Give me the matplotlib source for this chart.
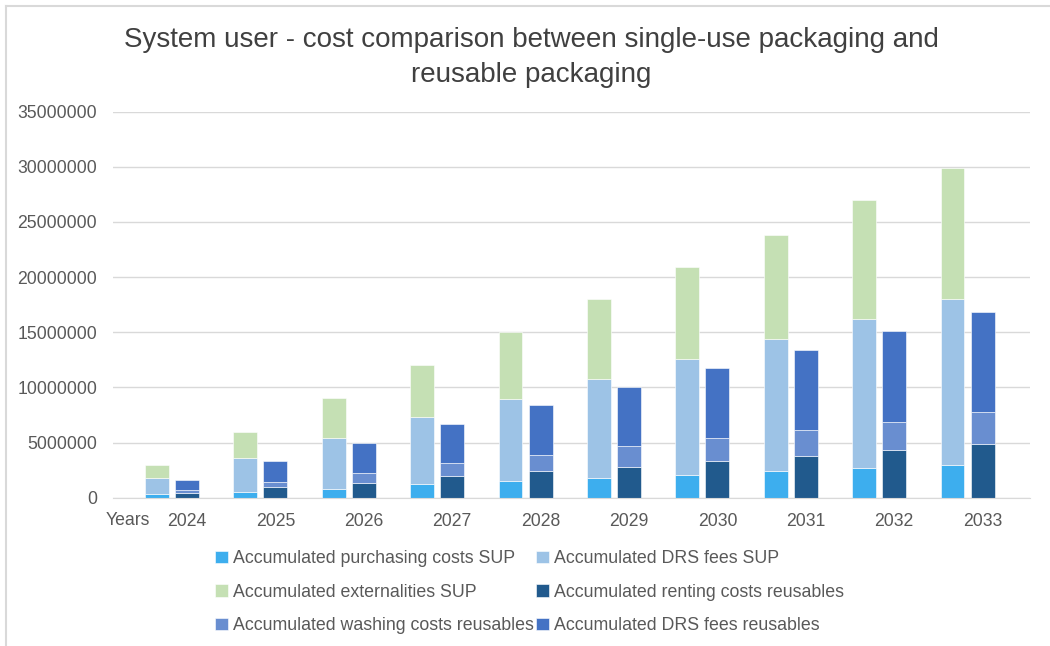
import matplotlib
matplotlib.use("Agg")
import matplotlib.pyplot as plt
from matplotlib.lines import Line2D
import numpy as np

plt.rcParams['font.family'] = ['Liberation Sans', 'DejaVu Sans']

years = ["2024", "2025", "2026", "2027", "2028", "2029", "2030", "2031", "2032", "2033"]

# Single-use packaging (cumulative, stacked)
purchasing_sup = [330000, 550000, 820000, 1240000, 1510000, 1750000, 2050000, 2440000, 2700000, 2960000]
drs_sup = [1420000, 3070000, 4550000, 6060000, 7410000, 9050000, 10490000, 11960000, 13500000, 15040000]
externalities_sup = [1250000, 2380000, 3630000, 4700000, 6080000, 7200000, 8410000, 9400000, 10800000, 11900000]

# Reusable packaging (cumulative, stacked)
renting_reuse = [450000, 940000, 1360000, 1930000, 2410000, 2800000, 3350000, 3770000, 4300000, 4860000]
washing_reuse = [250000, 510000, 900000, 1210000, 1450000, 1900000, 2020000, 2410000, 2600000, 2940000]
drs_reuse = [900000, 1900000, 2710000, 3510000, 4520000, 5340000, 6380000, 7170000, 8170000, 9000000]

c_purch = "#3daeee"
c_drs_sup = "#9dc3e6"
c_ext = "#c5e0b4"
c_rent = "#215a8d"
c_wash = "#698ed0"
c_drs_re = "#4472c4"

fig = plt.figure(figsize=(10.5, 6.46), dpi=100)
W, H = 1050, 646
ax = fig.add_axes([113 / W, 1 - 497.7 / H, 917 / W, 386 / H])

x = np.arange(len(years))
bw = 0.27
off = -0.34
edge = dict(edgecolor="white", linewidth=0.4)

ps = np.array(purchasing_sup)
ds = np.array(drs_sup)
es = np.array(externalities_sup)
rr = np.array(renting_reuse)
wr = np.array(washing_reuse)
dr = np.array(drs_reuse)

b1 = ax.bar(x + off, ps, bw, color=c_purch, label="Accumulated purchasing costs SUP", **edge)
b2 = ax.bar(x + off, ds, bw, bottom=ps, color=c_drs_sup, label="Accumulated DRS fees SUP", **edge)
b3 = ax.bar(x + off, es, bw, bottom=ps + ds, color=c_ext, label="Accumulated externalities SUP", **edge)
b4 = ax.bar(x, rr, bw, color=c_rent, label="Accumulated renting costs reusables", **edge)
b5 = ax.bar(x, wr, bw, bottom=rr, color=c_wash, label="Accumulated washing costs reusables", **edge)
b6 = ax.bar(x, dr, bw, bottom=rr + wr, color=c_drs_re, label="Accumulated DRS fees reusables", **edge)

ax.set_ylim(0, 35000000)
ax.set_yticks(np.arange(0, 35000001, 5000000))
ax.set_yticklabels([f"{v:d}" for v in range(0, 35000001, 5000000)])
ax.set_xlim(-0.837, 9.536)
ax.set_xticks(x)
ax.set_xticklabels(years)

ax.grid(axis="y", color="#d9d9d9", linewidth=1.0)
ax.set_axisbelow(True)
for s in ["top", "right", "left"]:
    ax.spines[s].set_visible(False)
ax.spines["bottom"].set_color("#d9d9d9")
ax.tick_params(axis="both", length=0, colors="#595959", labelsize=12.7)
ax.tick_params(axis="y", pad=11.5)
ax.tick_params(axis="x", pad=11)

fig.text(128 / W, 1 - 520.5 / H, "Years", ha="center", va="center",
         fontsize=12.7, color="#595959")

fig.text(531 / W, 1 - 40 / H, "System user - cost comparison between single-use packaging and",
         ha="center", va="center", fontsize=20, color="#404040")
fig.text(531 / W, 1 - 75 / H, "reusable packaging",
         ha="center", va="center", fontsize=20, color="#404040")

handles = [b1, b3, b5, b2, b4, b6]
labels = [h.get_label() for h in handles]
fig.legend(handles, labels, ncol=2, loc="upper left", bbox_to_anchor=(208 / W, 1 - 543 / H),
           frameon=False, fontsize=12.8, labelcolor="#595959", handlelength=0.7, handleheight=0.7,
           handletextpad=0.3, columnspacing=0.15, labelspacing=0.93, borderaxespad=0)

# chart border (top and left edges)
fig.add_artist(Line2D([6 / W, 6 / W], [0, 1 - 6 / H], color="#d9d9d9", linewidth=1.5))
fig.add_artist(Line2D([6 / W, 1], [1 - 6 / H, 1 - 6 / H], color="#d9d9d9", linewidth=1.5))

fig.savefig("out.png", dpi=100)
